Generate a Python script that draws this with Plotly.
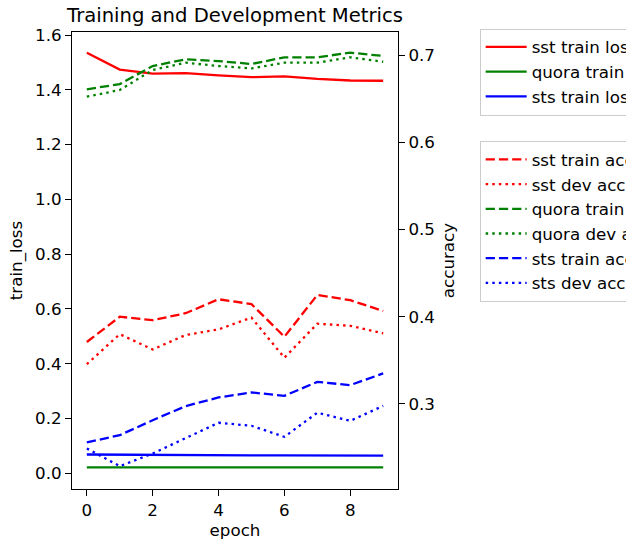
import plotly.graph_objects as go

epochs = list(range(10))

sst_train_loss = [1.535, 1.474, 1.459, 1.461, 1.453, 1.446, 1.449, 1.440, 1.434, 1.433]
quora_train_loss = [0.022, 0.022, 0.022, 0.022, 0.022, 0.022, 0.022, 0.022, 0.022, 0.022]
sts_train_loss = [0.069, 0.068, 0.068, 0.067, 0.067, 0.066, 0.066, 0.066, 0.065, 0.065]

sst_train_acc = [0.371, 0.400, 0.396, 0.404, 0.420, 0.4145, 0.377, 0.425, 0.419, 0.4065]
sst_dev_acc = [0.3456, 0.380, 0.3625, 0.379, 0.3855, 0.399, 0.353, 0.392, 0.3896, 0.381]
quora_train_acc = [0.6607, 0.6667, 0.6874, 0.695, 0.6931, 0.6897, 0.6974, 0.6974, 0.7027, 0.6989]
quora_dev_acc = [0.6522, 0.6599, 0.6828, 0.6912, 0.6874, 0.6847, 0.6912, 0.6912, 0.6974, 0.6923]
sts_train_acc = [0.256, 0.2642, 0.2814, 0.2975, 0.3075, 0.3132, 0.3093, 0.3253, 0.3216, 0.335]
sts_dev_acc = [0.249, 0.2287, 0.2432, 0.2604, 0.2784, 0.275, 0.2623, 0.290, 0.2806, 0.2978]

loss_series = [
    ("sst train loss", sst_train_loss, "red"),
    ("quora train loss", quora_train_loss, "green"),
    ("sts train loss", sts_train_loss, "blue"),
]
acc_series = [
    ("sst train acc", sst_train_acc, "red", "9.25px,4px"),
    ("sst dev acc", sst_dev_acc, "red", "2.5px,4.1px"),
    ("quora train acc", quora_train_acc, "green", "9.25px,4px"),
    ("quora dev acc", quora_dev_acc, "green", "2.5px,4.1px"),
    ("sts train acc", sts_train_acc, "blue", "9.25px,4px"),
    ("sts dev acc", sts_dev_acc, "blue", "2.5px,4.1px"),
]

FONT = "DejaVu Sans"
FS = 16.7
LW = 2.3

fig = go.Figure()
for i, (name, vals, col) in enumerate(loss_series):
    fig.add_trace(go.Scatter(
        x=epochs, y=vals, mode="lines", name=name,
        line=dict(color=col, width=LW),
        legend="legend", legendgroup=f"l{i}", yaxis="y",
    ))
for i, (name, vals, col, dash) in enumerate(acc_series):
    fig.add_trace(go.Scatter(
        x=epochs, y=vals, mode="lines", name=name,
        line=dict(color=col, width=LW, dash=dash),
        legend="legend2", legendgroup=f"a{i}", yaxis="y2",
    ))

axis_common = dict(
    showline=True, linecolor="black", linewidth=1.1,
    ticks="outside", ticklen=6, tickwidth=1.1, tickcolor="black",
    showgrid=False, zeroline=False,
    tickfont=dict(family=FONT, size=FS, color="black"),
)

legend_common = dict(
    xref="paper", yref="paper", xanchor="left", yanchor="top",
    bgcolor="white", bordercolor="#cccccc", borderwidth=1,
    font=dict(family=FONT, size=FS, color="black"),
    traceorder="grouped", tracegroupgap=0, itemwidth=41,
)

def py(px):
    # convert a pixel y (from top of figure) to paper coordinate
    return (489 - px) / 457

fig.update_layout(
    width=626, height=544,
    margin=dict(l=72, r=228.3, t=32, b=55, autoexpand=False),
    plot_bgcolor="white", paper_bgcolor="white",
    font=dict(family=FONT, size=FS, color="black"),
    title=dict(text="Training and Development Metrics", x=0.5, xref="paper",
               y=(544 - 22) / 544, yref="container", yanchor="bottom",
               font=dict(family=FONT, size=19.6, color="black")),
    xaxis=dict(range=[-0.45, 9.45], tickvals=[0, 2, 4, 6, 8], mirror=True,
               title=dict(text="epoch", font=dict(family=FONT, size=FS), standoff=5),
               **axis_common),
    yaxis=dict(range=[-0.057, 1.611], tickvals=[0, 0.2, 0.4, 0.6, 0.8, 1.0, 1.2, 1.4, 1.6],
               ticktext=["0.0", "0.2", "0.4", "0.6", "0.8", "1.0", "1.2", "1.4", "1.6"],
               title=dict(text="train_loss", font=dict(family=FONT, size=FS), standoff=8),
               **axis_common),
    yaxis2=dict(range=[0.2025, 0.7264], tickvals=[0.3, 0.4, 0.5, 0.6, 0.7],
                ticktext=["0.3", "0.4", "0.5", "0.6", "0.7"],
                overlaying="y", side="right", anchor="x",
                title=dict(text="accuracy", font=dict(family=FONT, size=FS), standoff=8),
                **axis_common),
    legend=dict(x=1.2505, y=py(28.5), **legend_common),
    legend2=dict(x=1.2505, y=py(141), **legend_common),
)

fig.write_html("out.html")
